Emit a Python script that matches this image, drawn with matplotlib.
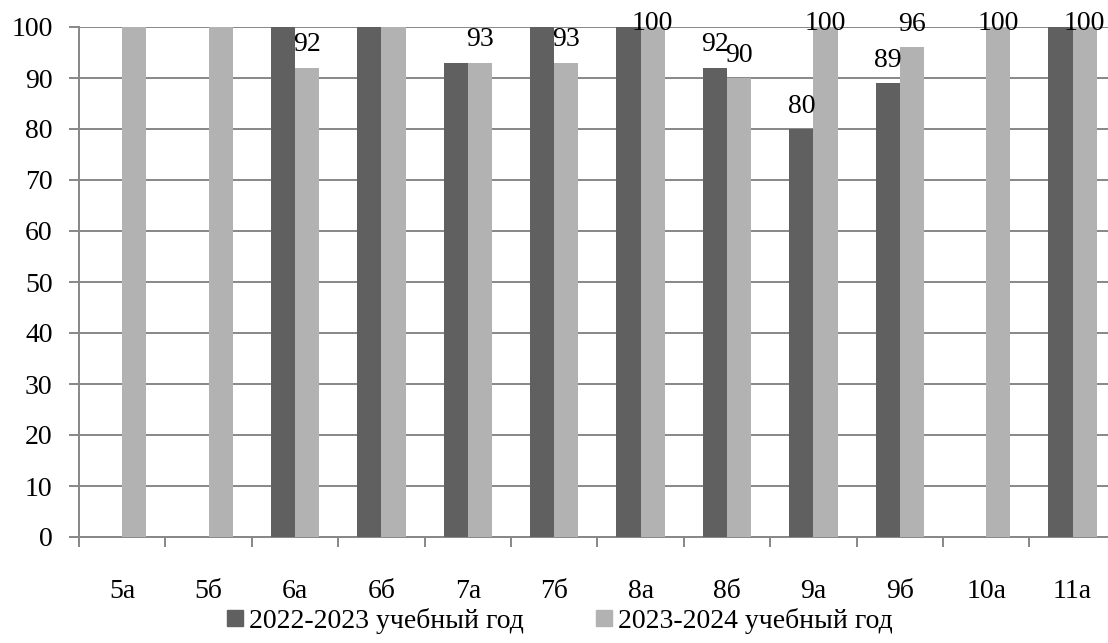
import numpy as np
import matplotlib
matplotlib.use("Agg")
import matplotlib.pyplot as plt
from matplotlib.lines import Line2D

# data
classes = ['5а', '5б', '6а', '6б', '7а', '7б', '8а', '8б', '9а', '9б', '10а', '11а']
y2022 = [0, 0, 100, 100, 93, 100, 100, 92, 80, 89, 0, 100]
y2023 = [100, 100, 92, 100, 93, 93, 100, 90, 100, 96, 100, 100]
# which values have a data label in the picture
lab2022 = [None, None, None, None, None, None, None, 92, 80, 89, None, None]
lab2023 = [None, None, 92, None, 93, 93, 100, 90, 100, 96, 100, 100]
series_names = ['2022-2023 учебный год', '2023-2024 учебный год']

dark = '#606060'
light = '#b2b2b2'
grid_c = '#878787'

plt.rcParams['font.family'] = 'serif'
plt.rcParams['font.serif'] = ['Liberation Serif', 'Times New Roman', 'DejaVu Serif']
plt.rcParams['font.size'] = 20

fig = plt.figure(figsize=(11.08, 6.43), dpi=100)
ax = fig.add_axes([79/1108, 1-537/643, 12*86.4/1108, 510/643])

x = np.arange(len(classes))
w = 0.28
ax.bar(x - w/2, y2022, w, color=dark, zorder=3)
ax.bar(x + w/2, y2023, w, color=light, zorder=3)

# data labels above bars, kept inside the top of the chart
for xs, labs in ((x - w/2, lab2022), (x + w/2, lab2023)):
    for xi, v in zip(xs, labs):
        if v is None:
            continue
        ax.text(xi, min(v + 4.5, 100.6), str(v), ha='center', va='center',
                fontsize=20, zorder=5, clip_on=False)

ax.set_xlim(-0.5, len(classes) - 0.5)
ax.set_ylim(0, 100)
ax.set_yticks(np.arange(0, 101, 10))
ax.set_xticks(x)
ax.set_xticklabels(classes)
ax.set_xticks(np.arange(-0.5, len(classes), 1.0), minor=True)
ax.tick_params(axis='x', which='major', length=0, pad=30)
ax.tick_params(axis='x', which='minor', length=7, width=1.4, color=grid_c, direction='out')
ax.tick_params(axis='y', length=7, width=1.4, color=grid_c, pad=12)

ax.grid(axis='y', color=grid_c, linewidth=1.4, zorder=0)
for s in ('top', 'right'):
    ax.spines[s].set_visible(False)
for s in ('left', 'bottom'):
    ax.spines[s].set_color(grid_c)
    ax.spines[s].set_linewidth(1.4)

handles = [Line2D([], [], marker='s', linestyle='none', markersize=12, color=c)
           for c in (dark, light)]
fig.legend(handles, series_names, loc='center', bbox_to_anchor=(557/1108, 1-621/643),
           ncol=2, frameon=False, handletextpad=0.0, columnspacing=2.4,
           handlelength=1.0, fontsize=20)

fig.savefig('out.png', dpi=100)
